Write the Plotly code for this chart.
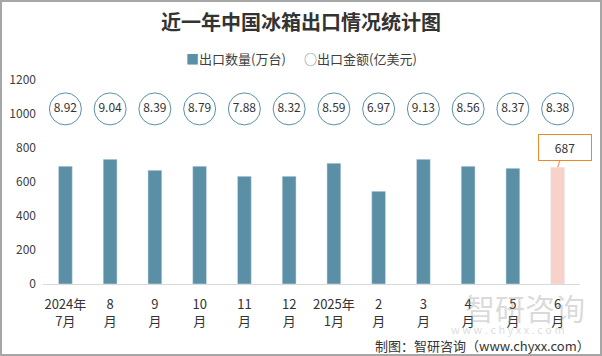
import plotly.graph_objects as go

categories = ["2024年<br>7月", "8<br>月", "9<br>月", "10<br>月", "11<br>月", "12<br>月",
              "2025年<br>1月", "2<br>月", "3<br>月", "4<br>月", "5<br>月", "6<br>月"]
quantity = [693, 734, 669, 693, 634, 634, 711, 546, 734, 693, 681, 687]
amount = [8.92, 9.04, 8.39, 8.79, 7.88, 8.32, 8.59, 6.97, 9.13, 8.56, 8.37, 8.38]
circle_level = [1030] * 12

W, H = 602, 356
ML, MR, MT, MB = 43, 22, 80, 72
pw, ph = W - ML - MR, H - MT - MB

teal = "#5b8fa6"
pink = "#f8d1c8"
font = "Noto Sans CJK SC"

def px(x):
    return (x - ML) / pw

def py(y):
    return (H - MB - y) / ph

bar_colors = [teal] * 11 + [pink]

fig = go.Figure()
fig.add_trace(go.Bar(x=categories, y=quantity, marker_color=bar_colors,
                     name="出口数量(万台)", showlegend=False, hoverinfo="skip"))
fig.add_trace(go.Scatter(x=categories, y=circle_level, mode="markers+text",
                         text=[f"{v:.2f}" for v in amount], textposition="middle center",
                         textfont=dict(size=12, color="#333333", family=font),
                         marker=dict(size=32, color="white", line=dict(color=teal, width=1)),
                         showlegend=False, cliponaxis=False, hoverinfo="skip"))

fig.add_annotation(x=categories[-1], y=quantity[-1], text=str(quantity[-1]),
                   showarrow=True, arrowhead=0, arrowcolor="#e8892a", arrowwidth=1,
                   ax=7, ay=-20, standoff=0, bordercolor="#e8892a", borderwidth=1,
                   bgcolor="white", borderpad=4, width=44,
                   font=dict(size=12, color="#333333", family=font))

# legend (as text)
fig.add_annotation(xref="paper", yref="paper", x=px(184), y=py(59), xanchor="left",
                   yanchor="middle",
                   text=f"<span style='color:{teal}'>■</span>出口数量(万台)", showarrow=False,
                   font=dict(size=13, color="#404040", family=font))
fig.add_annotation(xref="paper", yref="paper", x=px(302), y=py(59), xanchor="left",
                   yanchor="middle",
                   text=f"<span style='color:{teal}'>○</span>出口金额(亿美元)", showarrow=False,
                   font=dict(size=13, color="#404040", family=font))

# watermark
fig.add_annotation(xref="paper", yref="paper", x=px(525), y=py(307),
                   xanchor="center", yanchor="middle",
                   text="智研咨询", showarrow=False,
                   font=dict(size=30, color="rgba(150,150,150,0.35)", family=font))
fig.add_annotation(xref="paper", yref="paper", x=px(508), y=py(329),
                   xanchor="center", yanchor="middle",
                   text="w w w . c h y x x . c o m", showarrow=False,
                   font=dict(size=11, color="rgba(150,150,150,0.35)", family=font))
# source
fig.add_annotation(xref="paper", yref="paper", x=px(592), y=py(345),
                   xanchor="right", yanchor="middle",
                   text="制图：智研咨询（www.chyxx.com）", showarrow=False,
                   font=dict(size=13, color="#333333", family=font))

# border
fig.add_shape(type="rect", xref="paper", yref="paper",
              x0=px(1), x1=px(W - 1), y0=py(H - 1), y1=py(1),
              line=dict(color="#a6a6a6", width=2))

fig.update_layout(
    width=W, height=H,
    margin=dict(l=ML, r=MR, t=MT, b=MB),
    paper_bgcolor="white", plot_bgcolor="white",
    font=dict(family=font, size=12, color="#404040"),
    showlegend=False,
    title=dict(text="<b>近一年中国冰箱出口情况统计图</b>", x=0.5, xanchor="center",
               y=1 - 23 / H, yanchor="middle", font=dict(size=20, color="#333333", family=font)),
    bargap=0.69,
    xaxis=dict(showline=True, linecolor="#d9d9d9", linewidth=1, ticks="", automargin=False,
               range=[-0.5, len(categories) - 0.5], ticklabelstandoff=8,
               tickfont=dict(size=13, color="#333333"), showgrid=False),
    yaxis=dict(range=[0, 1200], dtick=200, showgrid=False, zeroline=False, automargin=False,
               ticklabelstandoff=6, tickfont=dict(size=12, color="#404040")),
)

fig.write_html("out.html", config={"displayModeBar": False},
               post_script="document.body.style.margin='0';")
